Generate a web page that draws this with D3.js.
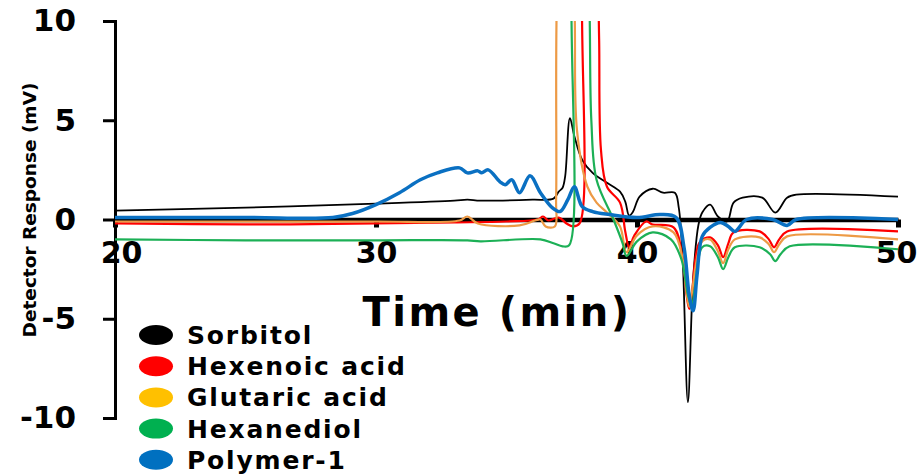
<!DOCTYPE html>
<html>
<head>
<meta charset="utf-8">
<script src="https://cdn.jsdelivr.net/npm/d3@7"></script>
<style>
  body { margin: 0; background: #fff; }
  svg { display: block; }
</style>
</head>
<body>
<div id="grafico"></div>
<script>
const sorbitol = [[20,0.45],[25,0.6],[30,0.8],[33,0.95],[33.5,1.0],[34,0.95],[36,1.0],[36.8,1.05],[37.0,1.4],[37.15,1.6],[37.25,2.2],[37.43,5.1],[37.6,4.2],[37.9,3.0],[38.3,2.35],[38.85,1.85],[39.35,1.4],[39.55,0.9],[39.7,0.2],[39.85,0.4],[40.1,1.15],[40.6,1.55],[41.0,1.35],[41.45,1.35],[41.6,0.6],[41.75,-2],[41.95,-9.2],[42.15,-3],[42.35,-0.3],[42.5,0.35],[42.8,0.75],[43.1,0.15],[43.45,-0.1],[43.7,0.85],[44.05,1.1],[44.8,1.1],[45.3,0.35],[45.75,1.1],[46.1,1.25],[50,1.15]];
const hexenoico = [[20,-0.2],[25,-0.25],[30,-0.2],[33,-0.15],[35,-0.1],[36.2,0],[36.4,0.15],[36.6,-0.05],[37.0,0.1],[37.3,-0.2],[37.55,-0.35],[37.8,-0.2],[37.9,12],[38.2,20],[38.5,12],[38.55,9],[38.62,3.5],[38.85,1.65],[39.35,0.85],[39.55,-0.6],[39.7,-1.4],[39.9,-0.8],[40.35,-0.1],[40.6,-0.25],[41.4,-0.4],[41.75,-2.0],[41.9,-3.8],[42.0,-4.5],[42.1,-3.8],[42.4,-1.15],[42.8,-0.9],[43.1,-1.3],[43.3,-1.9],[43.5,-1.2],[43.7,-0.65],[44.7,-0.6],[45.05,-1.0],[45.25,-1.4],[45.45,-1.0],[45.75,-0.6],[50,-0.6]];
const glutarico = [[20,-0.1],[25,-0.1],[30,-0.1],[33.2,-0.05],[33.5,0.15],[33.9,-0.2],[35.5,-0.3],[36.1,-0.05],[36.3,0.0],[36.5,-0.35],[36.85,-0.35],[36.9,1],[36.95,12],[37.3,18],[37.6,11],[37.7,4.5],[38.1,1.65],[38.45,0.85],[38.85,0.35],[39.35,-0.35],[39.6,-1.65],[40.0,-0.8],[40.6,-0.35],[41.4,-0.65],[41.75,-2.0],[41.9,-3.7],[42.0,-4.4],[42.1,-3.7],[42.5,-1.1],[42.8,-1.0],[43.1,-1.6],[43.3,-2.2],[43.5,-1.5],[43.75,-1.0],[44.7,-0.9],[45.05,-1.25],[45.25,-1.65],[45.45,-1.25],[45.75,-0.85],[50,-1.0]];
const hexanodiol = [[20,-1.0],[25,-1.05],[30,-1.05],[33.5,-1.05],[34,-1.1],[36.3,-1.0],[36.8,-1.2],[37.15,-1.35],[37.4,-1.3],[37.5,12],[37.8,18],[38.15,12],[38.25,5],[38.45,2.0],[39.1,0],[39.45,-1.2],[39.6,-1.85],[40.0,-1.1],[40.6,-0.65],[41.3,-1.0],[41.7,-2.0],[41.95,-3.8],[42.1,-4.4],[42.2,-3.6],[42.5,-1.4],[42.8,-1.35],[43.1,-1.9],[43.3,-2.5],[43.5,-1.9],[43.75,-1.4],[44.7,-1.4],[45.1,-1.75],[45.3,-2.1],[45.5,-1.75],[45.85,-1.35],[50,-1.5]];
const polimero = [[20,0.1],[25,0.1],[28.35,0.1],[29.1,0.3],[30,0.75],[30.9,1.35],[31.7,2.0],[32.35,2.35],[33.2,2.6],[33.5,2.35],[33.9,2.45],[34.05,2.35],[34.3,2.5],[34.75,1.9],[34.95,1.75],[35.2,2.0],[35.5,1.35],[35.9,2.2],[36.3,1.35],[36.75,0.6],[37.05,0.4],[37.35,1.0],[37.6,1.65],[37.9,0.65],[38.3,0.4],[38.95,0.25],[40,0.1],[40.9,0.25],[41.5,0.1],[41.8,-1.4],[42.0,-3.8],[42.15,-4.6],[42.3,-2.8],[42.5,-0.85],[42.8,-0.4],[43.2,-0.15],[43.5,-0.35],[43.75,-0.6],[44.2,0],[45.2,0],[45.75,-0.3],[46.1,0],[50,0]];

const nomes = ['Sorbitol','Hexenoic acid','Glutaric acid','Hexanediol','Polymer-1'];
const coresLegenda = ['#000000','#ff0000','#ffc000','#00b050','#0070c0'];
const coresLinha = ['#000000','#ff0000','#ed9a45','#1cb056','#0a70c2'];
const series = [sorbitol, hexenoico, glutarico, hexanodiol, polimero];
const xTicks = [20,30,40,50];
const yTicks = [10,5,0,-5,-10];

const W = 923, H = 476;
const svg = d3.select('#grafico').append('svg').attr('width',W).attr('height',H);

const x = d3.scaleLinear().domain([20,50]).range([115,898]);
const y = d3.scaleLinear().domain([-10,10]).range([418,21]);

svg.append('defs').append('clipPath').attr('id','corte')
  .append('rect').attr('x',x(20)).attr('y',y(10)).attr('width',W-x(20)).attr('height',y(-10)-y(10)+40);

// eixo y
const eixoY = svg.append('g').attr('transform','translate('+x(20)+',0)')
  .call(d3.axisLeft(y).tickValues(yTicks).tickSize(12).tickPadding(27).tickFormat(d => String(d)));
eixoY.select('.domain').attr('stroke-width',3);
eixoY.selectAll('.tick line').attr('stroke-width',3);
eixoY.selectAll('.tick text').attr('font-family','DejaVu Sans').attr('font-weight','bold')
  .attr('font-size',31).attr('fill','#000');

// eixo x no zero
const eixoX = svg.append('g').attr('transform','translate(0,'+y(0)+')')
  .call(d3.axisBottom(x).tickValues(xTicks).tickSize(8).tickSizeOuter(0).tickPadding(14));
eixoX.select('.domain').attr('stroke-width',4.5);
eixoX.selectAll('.tick line').attr('stroke-width',5);
eixoX.selectAll('.tick text').attr('font-family','DejaVu Sans').attr('font-weight','bold')
  .attr('font-size',30).attr('fill','#000').attr('dx',d => d === 20 ? 6 : (d === 50 ? -2 : 0));

// linhas
const linha = d3.line().x(d => x(d[0])).y(d => y(d[1])).curve(d3.curveCatmullRom.alpha(0.5));
const larguras = [1.8,2.2,2.2,2.2,3.5];
const g = svg.append('g').attr('clip-path','url(#corte)');
series.forEach((s,i) => {
  g.append('path').attr('d',linha(s)).attr('fill','none')
    .attr('stroke',coresLinha[i]).attr('stroke-width',larguras[i])
    .attr('stroke-linejoin','round');
});

// titulos
svg.append('text').attr('x',497).attr('y',326).attr('text-anchor','middle')
  .attr('font-family','DejaVu Sans').attr('font-weight','bold').attr('font-size',40)
  .attr('letter-spacing',2.5)
  .text('Time (min)');
svg.append('text').attr('transform','translate(36,210) rotate(-90)').attr('text-anchor','middle')
  .attr('font-family','DejaVu Sans').attr('font-size',18.5).attr('font-weight','bold')
  .text('Detector Response (mV)');

// legenda
const leg = svg.append('g');
nomes.forEach((n,i) => {
  const cy = 335 + i*31.2;
  leg.append('ellipse').attr('cx',156).attr('cy',cy).attr('rx',17).attr('ry',10).attr('fill',coresLegenda[i]);
  leg.append('text').attr('x',187).attr('y',cy).attr('dy','0.36em')
    .attr('font-family','DejaVu Sans').attr('font-weight','bold').attr('font-size',25)
    .attr('letter-spacing',1.8)
    .text(n);
});
</script>
</body>
</html>
